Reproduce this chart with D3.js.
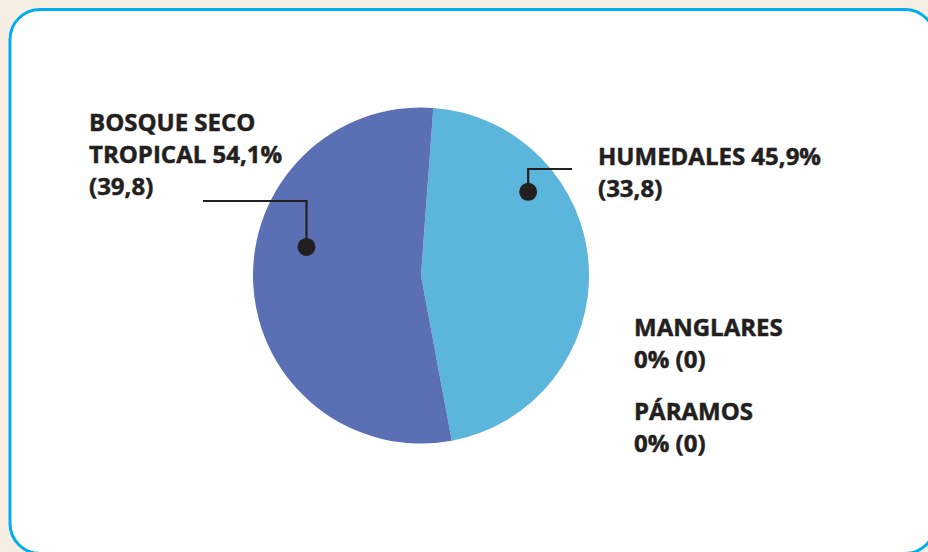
<!DOCTYPE html>
<html>
<head>
<meta charset="utf-8">
<script src="https://cdn.jsdelivr.net/npm/d3@7"></script>
<style>
    html, body { margin: 0; padding: 0; background: #f7efe4; }
    svg { display: block; }
    .label { font-family: "Open Sans", "Noto Sans", sans-serif; font-weight: 700; fill: #231f20; stroke: #231f20; stroke-width: 0.5px; }
</style>
</head>
<body>
<div id="chart"></div>
<script>
// データ
const categories = ['HUMEDALES', 'BOSQUE SECO TROPICAL', 'MANGLARES', 'PÁRAMOS'];
const percents = [45.9, 54.1, 0, 0];
const values = ['33,8', '39,8', '0', '0'];
const labelLines = [
    ['HUMEDALES 45,9%', '(33,8)'],
    ['BOSQUE SECO', 'TROPICAL 54,1%', '(39,8)'],
    ['MANGLARES', '0% (0)'],
    ['PÁRAMOS', '0% (0)']
];
const colors = ['#5cb5da', '#5a6fb4', '#5cb5da', '#5a6fb4'];

const width = 928;
const height = 552;
const cx = 421;
const cy = 275.5;
const radius = 168;

// ラベル配置 (レイアウト用)
const labelLayout = [
    { x: 598, y: 165, dotAngle: 52, dotR: 136, elbowY: 169, lineEndX: 572 },
    { x: 89, y: 131, dotAngle: 284, dotR: 118, elbowY: 201, lineEndX: 203 },
    { x: 634, y: 336 },
    { x: 634, y: 420 }
];
const lineHeight = 32;

const svg = d3.select('#chart')
    .append('svg')
    .attr('width', width)
    .attr('height', height);

// 枠
svg.append('rect')
    .attr('x', 10)
    .attr('y', 9.5)
    .attr('width', 925)
    .attr('height', 544)
    .attr('rx', 30)
    .attr('ry', 30)
    .attr('fill', '#ffffff')
    .attr('stroke', '#00aeef')
    .attr('stroke-width', 3);

const startOffset = 4.2 * Math.PI / 180;

const pie = d3.pie()
    .sort(null)
    .value(d => d)
    .startAngle(startOffset)
    .endAngle(startOffset + 2 * Math.PI);

const arcs = pie(percents);

const arc = d3.arc()
    .innerRadius(0)
    .outerRadius(radius);

const g = svg.append('g')
    .attr('transform', `translate(${cx},${cy})`);

g.selectAll('path')
    .data(arcs)
    .enter()
    .append('path')
    .attr('d', arc)
    .attr('fill', (d, i) => colors[i]);

// 引き出し線
const leaders = svg.append('g');
labelLayout.forEach((l, i) => {
    if (l.dotAngle === undefined) return;
    const a = l.dotAngle * Math.PI / 180;
    const dx = cx + l.dotR * Math.sin(a);
    const dy = cy - l.dotR * Math.cos(a);
    leaders.append('polyline')
        .attr('points', `${dx},${dy} ${dx},${l.elbowY} ${l.lineEndX},${l.elbowY}`)
        .attr('fill', 'none')
        .attr('stroke', '#231f20')
        .attr('stroke-width', 2.2);
    leaders.append('circle')
        .attr('cx', dx)
        .attr('cy', dy)
        .attr('r', 9)
        .attr('fill', '#231f20');
});

// ラベル
labelLines.forEach((lines, i) => {
    const l = labelLayout[i];
    const t = svg.append('text')
        .attr('class', 'label')
        .attr('x', l.x)
        .attr('y', l.y)
        .style('font-size', '24px');
    lines.forEach((s, j) => {
        t.append('tspan')
            .attr('x', l.x)
            .attr('dy', j === 0 ? 0 : lineHeight)
            .text(s);
    });
});
</script>
</body>
</html>
